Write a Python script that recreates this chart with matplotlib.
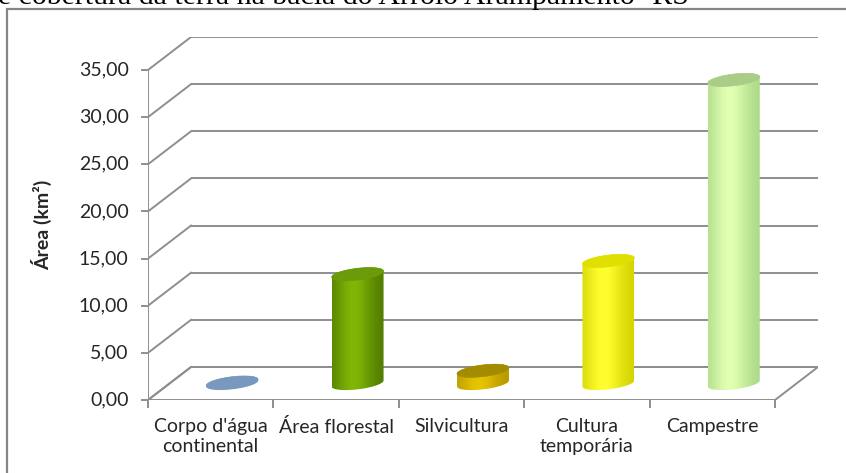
import numpy as np
import matplotlib.pyplot as plt
from matplotlib.patches import Polygon, Rectangle
from matplotlib.colors import to_rgb

# Land use / land cover areas (km²)
categories = ["Corpo d'água\ncontinental", "Área florestal", "Silvicultura",
              "Cultura\ntemporária", "Campestre"]
areas = [0.1, 11.6, 1.35, 13.0, 32.2]
y_ticks = [0, 5, 10, 15, 20, 25, 30, 35]
y_tick_labels = ["0,00", "5,00", "10,00", "15,00", "20,00", "25,00", "30,00", "35,00"]

# cylinder colours: dark edge, highlight, top cap
edge_colors = ["#6d8fb3", "#4e7a00", "#b59600", "#d2d200", "#a9d886"]
light_colors = ["#86a6c8", "#80b606", "#e6c400", "#ffff30", "#e2ffb2"]
top_colors = ["#7899bd", "#6b9a0a", "#a48c00", "#e0e000", "#a9cc86"]

TITLE = "e cobertura da terra na bacia do Arroio Arampamento- RS"

DEPTH_X = 0.343   # 3D depth offset, in category units
DEPTH_Y = 3.5     # 3D depth offset, in value units
GRID = "#8e8e8e"
FONT = "Lato"


def ellipse_pts(cx, cy, a, b, s, t):
    return np.column_stack([cx + a * np.cos(t), cy + b * np.sin(t) + s * np.cos(t)])


def draw_cylinder(ax, cx, base, value, edge, light, top, a=0.207, b=0.62, s=0.32):
    """Excel-like 3D cylinder at mid depth with a horizontal shading gradient."""
    topy = base + value
    lower = ellipse_pts(cx, base, a, b, s, np.linspace(np.pi, 2 * np.pi, 60))
    upper = ellipse_pts(cx, topy, a, b, s, np.linspace(0, np.pi, 60))
    body = Polygon(np.vstack([lower, upper]), closed=True, fc="none", ec="none", zorder=5)
    ax.add_patch(body)

    u = np.linspace(0, 1, 128)
    w = np.exp(-((u - 0.42) / 0.36) ** 2)
    e, l = np.array(to_rgb(edge)), np.array(to_rgb(light))
    grad = e[None, :] + (l - e)[None, :] * w[:, None]
    img = np.repeat(grad[None, :, :], 2, axis=0)
    im = ax.imshow(img, extent=[cx - a, cx + a, base - b - s, topy + b + s],
                   aspect="auto", interpolation="bilinear", zorder=5, origin="lower")
    im.set_clip_path(body)

    cap = ellipse_pts(cx, topy, a, b, s, np.linspace(0, 2 * np.pi, 120))
    ax.add_patch(Polygon(cap, closed=True, fc=top, ec=top, lw=0.5, zorder=6))


fig = plt.figure(figsize=(8.46, 4.73), dpi=100)
W, H = 846, 473
ax = fig.add_axes([148 / W, (H - 400) / H, 670 / W, 363 / H])
ax.set_axis_off()

n = len(categories)
ymax = y_ticks[-1]

# floor
floor = [(0, 0), (n, 0), (n + DEPTH_X, DEPTH_Y), (DEPTH_X, DEPTH_Y)]
ax.add_patch(Polygon(floor, closed=True, fc="white", ec=GRID, lw=1.4, zorder=1))

# back wall and side wall gridlines
for v, lab in zip(y_ticks, y_tick_labels):
    ax.plot([DEPTH_X, n + DEPTH_X], [v + DEPTH_Y, v + DEPTH_Y], color=GRID, lw=1.4, zorder=2,
            solid_capstyle="butt")
    ax.plot([0, DEPTH_X], [v, v + DEPTH_Y], color=GRID, lw=1.4, zorder=2)
    ax.plot([-0.045, 0], [v, v], color=GRID, lw=1.4, zorder=2, clip_on=False)
    ax.text(-0.155, v, lab, ha="right", va="center", fontsize=14, family=FONT,
            color="#262626", clip_on=False)

# vertical axis line
ax.plot([0, 0], [0, ymax], color=GRID, lw=1.4, zorder=3)

# category ticks and labels
for i in range(n + 1):
    ax.plot([i, i], [0, -0.75], color=GRID, lw=1.4, zorder=3, clip_on=False)
for i, cat in enumerate(categories):
    ax.text(i + 0.5, -1.9, cat, ha="center", va="top", fontsize=14, family=FONT,
            color="#262626", linespacing=1.2, clip_on=False)

# cylinders, placed at half depth
for i, val in enumerate(areas):
    draw_cylinder(ax, i + 0.5 + DEPTH_X / 2, DEPTH_Y / 2, val,
                  edge_colors[i], light_colors[i], top_colors[i])

ax.set_xlim(0, n + DEPTH_X)
ax.set_ylim(0, ymax + DEPTH_Y)

fig.text(42 / W, 1 - 225 / H, "Área (km²)", rotation=90, ha="center", va="center",
         fontsize=14, fontweight="bold", family=FONT, color="#262626")

# chart area border (cropped on the right and bottom)
fig.patches.append(Rectangle((7 / W, -0.1), 2, 1 - 9 / H + 0.1, transform=fig.transFigure,
                             fill=False, ec="#868686", lw=1.6, zorder=0))

# caption line cut off at the top of the image
fig.text(-2 / W, 1 - 4 / H, TITLE, ha="left", va="baseline", fontsize=21.5,
         family="Liberation Serif", color="black")

fig.savefig("out.png", dpi=100)
